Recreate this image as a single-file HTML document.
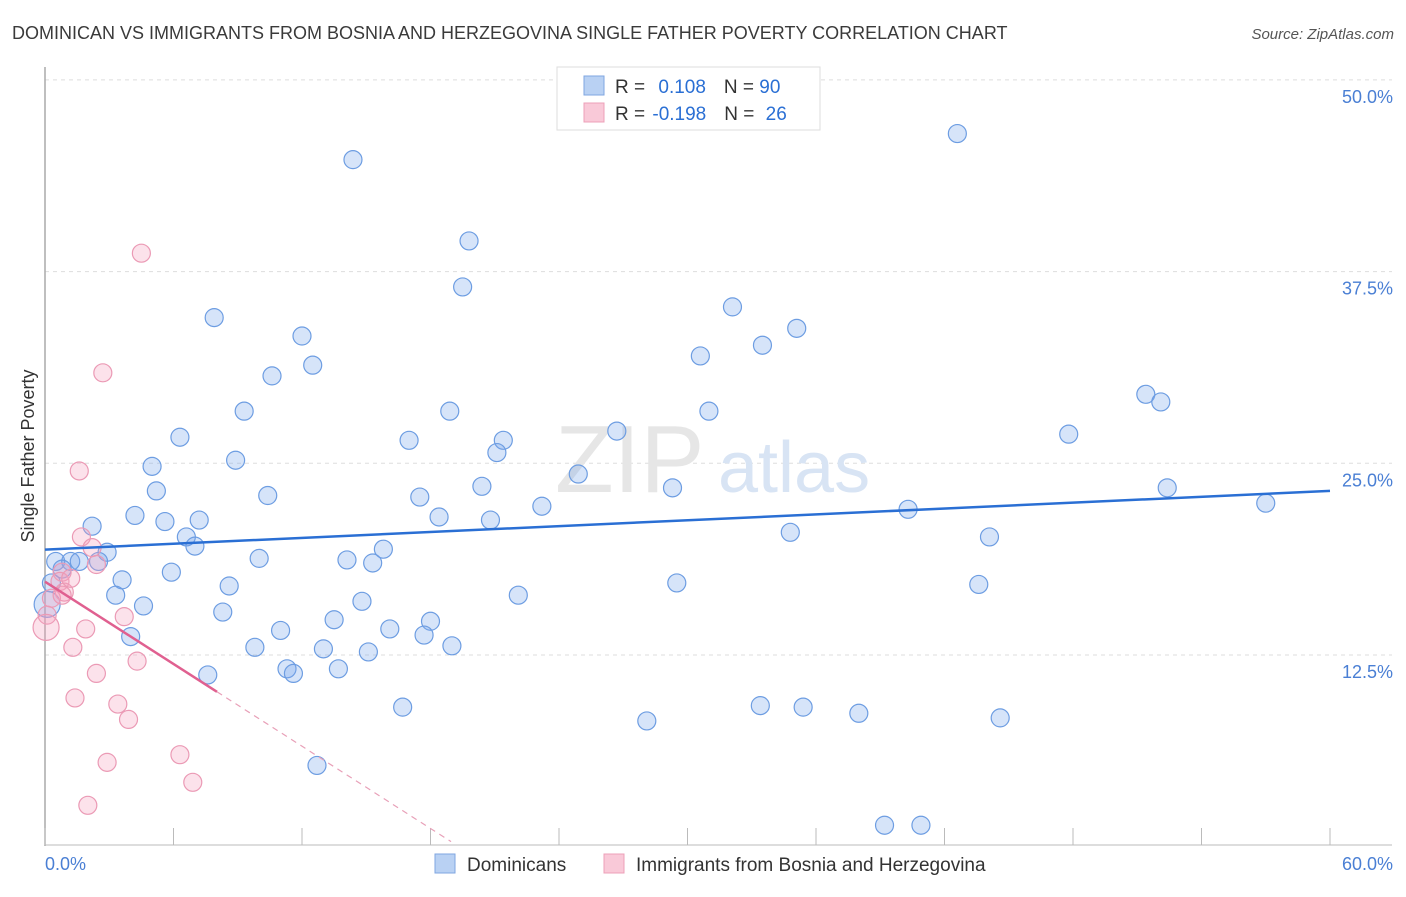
<!DOCTYPE html>
<html><head><meta charset="utf-8"><style>
body{margin:0;background:#fff;font-family:"Liberation Sans",sans-serif}
svg text{font-family:"Liberation Sans",sans-serif}
</style></head><body>
<svg id="chart" width="1406" height="892" xmlns="http://www.w3.org/2000/svg">
<text x="12" y="39" font-size="18" fill="#3a3a3a">DOMINICAN VS IMMIGRANTS FROM BOSNIA AND HERZEGOVINA SINGLE FATHER POVERTY CORRELATION CHART</text>
<text x="1394" y="39" font-size="15" fill="#555" text-anchor="end" font-style="italic">Source: ZipAtlas.com</text>
<g id="grid"></g>
<text x="555" y="492" font-size="96" fill="#e6e6e6" font-family="Liberation Serif">ZIP</text>
<text x="718" y="492" font-size="72" fill="#d8e4f4">atlas</text>
<g id="pts"></g>
<g id="lines"></g>
<text transform="translate(34,456) rotate(-90)" font-size="18" fill="#333" text-anchor="middle">Single Father Poverty</text>
<text x="45" y="870" font-size="18" fill="#4a7fd4">0.0%</text>
<text x="1393" y="870" font-size="18" fill="#4a7fd4" text-anchor="end">60.0%</text>
<g>
<rect x="557" y="67" width="263" height="63" fill="#fff" stroke="#ddd"/>
<rect x="584" y="76" width="20" height="19" fill="#b9d1f3" stroke="#7fa6e0"/>
<rect x="584" y="103" width="20" height="19" fill="#f9c9d8" stroke="#eda0b8"/>
<text x="615" y="93" font-size="19" fill="#333">R = <tspan fill="#2a6fd4" dx="8">0.108</tspan><tspan dx="18" fill="#333">N = </tspan><tspan fill="#2a6fd4">90</tspan></text>
<text x="615" y="120" font-size="19" fill="#333">R = <tspan fill="#2a6fd4" dx="2">-0.198</tspan><tspan dx="18" fill="#333">N = </tspan><tspan fill="#2a6fd4" dx="6">26</tspan></text>
</g>
<g>
<rect x="435" y="854" width="20" height="19" fill="#b9d1f3" stroke="#7fa6e0"/>
<text x="467" y="871" font-size="19" fill="#333">Dominicans</text>
<rect x="604" y="854" width="20" height="19" fill="#f9c9d8" stroke="#eda0b8"/>
<text x="636" y="871" font-size="19" fill="#333">Immigrants from Bosnia and Herzegovina</text>
</g>
</svg>
<script>
const blueX=[14.38,42.6,19.8,19.5,7.9,12.0,32.1,35.1,12.5,33.5,30.6,10.6,9.3,18.9,31.0,51.4,52.1,6.3,17.0,26.7,47.8,21.4,21.1,5.0,8.9,24.9,5.2,10.4,17.5,20.4,29.3,52.4,57.0,4.2,5.6,7.2,18.4,20.8,23.2,40.3,2.2,6.6,7.0,2.9,15.8,34.8,44.1,0.5,1.2,1.6,2.5,10.0,14.1,15.3,5.9,3.6,8.6,29.5,43.6,3.3,4.6,14.8,22.1,8.3,13.5,18.0,4.0,11.0,16.1,17.7,9.8,13.0,15.1,19.0,11.3,11.6,13.7,7.6,16.7,28.1,33.4,35.4,38.0,44.6,12.7,39.2,40.9,0.1,0.3,0.8];
const blueY=[44.8,46.5,39.5,36.5,34.5,33.3,35.2,33.8,31.4,32.7,32.0,30.7,28.4,28.4,28.4,29.5,29.0,26.7,26.5,27.1,26.9,26.5,25.7,24.8,25.2,24.3,23.2,22.9,22.8,23.5,23.4,23.4,22.4,21.6,21.2,21.3,21.5,21.3,22.2,22.0,20.9,20.2,19.6,19.2,19.4,20.5,20.2,18.6,18.6,18.6,18.6,18.8,18.7,18.5,17.9,17.4,17.0,17.2,17.1,16.4,15.7,16.0,16.4,15.3,14.8,14.7,13.7,14.1,14.2,13.8,13.0,12.9,12.7,13.1,11.6,11.3,11.6,11.2,9.1,8.2,9.2,9.1,8.7,8.4,5.3,1.4,1.4,15.8,17.2,18.1];
const pinkX=[4.5,2.7,1.6,1.7,2.2,2.4,0.8,0.7,0.9,1.2,0.3,0.1,0.05,3.7,1.9,1.3,4.3,2.4,1.4,3.4,3.9,6.3,2.9,6.9,2.0,0.8];
const pinkY=[38.7,30.9,24.5,20.2,19.5,18.4,17.9,17.3,16.6,17.5,16.2,15.1,14.3,15.0,14.2,13.0,12.1,11.3,9.7,9.3,8.3,6.0,5.5,4.2,2.7,16.4];
const yTicks=[12.5,25.0,37.5,50.0];
const yTickLabels=["12.5%","25.0%","37.5%","50.0%"];
const xTicks=[0,6,12,18,24,30,36,42,48,54,60];
const blueTrend=[19.37,23.2]; // y at x=0 and x=60
const pinkTrend=[17.28,-0.894]; // intercept, slope
const pinkSolidEnd=8.03, pinkDashEnd=18.96;
const NS="http://www.w3.org/2000/svg";
const sx=v=>45+v/60*1285, sy=v=>846.7-v/12.5*191.7;
function mk(t,a,p){const e=document.createElementNS(NS,t);for(const k in a)e.setAttribute(k,a[k]);p.appendChild(e);return e;}
const g=document.getElementById('grid');
yTicks.forEach((t,i)=>{
 const l=mk('line',{x1:45,x2:1392,y1:sy(t),y2:sy(t),stroke:'#ddd','stroke-dasharray':'4,4'},g);
 
 
 const tx=mk('text',{x:1393,y:sy(t)+23,'font-size':18,fill:'#4a7fd4','text-anchor':'end'},g);
 tx.textContent=yTickLabels[i];
 
 
});
const ax=mk('line',{x1:45,x2:45,y1:67,y2:846,stroke:'#aaa','stroke-width':1.5},g);


const bx=mk('line',{x1:45,x2:1392,y1:845,y2:845,stroke:'#bbb'},g);


xTicks.forEach(t=>{
 const l=mk('line',{x1:sx(t),x2:sx(t),y1:828,y2:845,stroke:'#bbb'},g);
 
 
});
const p=document.getElementById('pts');
blueX.forEach((x,i)=>{
 const big=i===87;
 const c=mk('circle',{cx:sx(x),cy:sy(blueY[i]),r:big?13:9,fill:'rgba(120,165,235,0.3)',stroke:'#6d9de2','stroke-width':1.2},p);
 
 
});
pinkX.forEach((x,i)=>{
 const big=i===12;
 const c=mk('circle',{cx:sx(x),cy:sy(pinkY[i]),r:big?13:9,fill:'rgba(245,160,190,0.3)',stroke:'#eb9ab5','stroke-width':1.2},p);
 
 
});
const L=document.getElementById('lines');
const bl=mk('line',{x1:sx(0),y1:sy(blueTrend[0]),x2:sx(60),y2:sy(blueTrend[1]),stroke:'#2a6fd4','stroke-width':2.5},L);


const pl=mk('line',{x1:sx(0),y1:sy(pinkTrend[0]),x2:sx(pinkSolidEnd),y2:sy(pinkTrend[0]+pinkTrend[1]*pinkSolidEnd),stroke:'#e06090','stroke-width':2.5},L);


const pd=mk('line',{x1:sx(pinkSolidEnd),y1:sy(pinkTrend[0]+pinkTrend[1]*pinkSolidEnd),x2:sx(pinkDashEnd),y2:sy(pinkTrend[0]+pinkTrend[1]*pinkDashEnd),stroke:'#e8a0b8','stroke-width':1.2,'stroke-dasharray':'6,5'},L);


</script>
</body></html>
